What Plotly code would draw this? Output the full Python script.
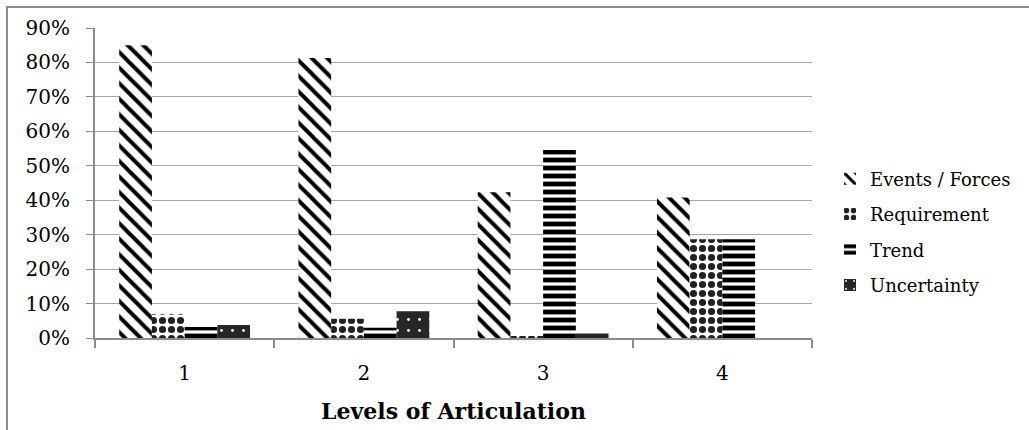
import plotly.graph_objects as go

categories = ["1", "2", "3", "4"]
events_forces = [0.850, 0.813, 0.423, 0.408]
requirement = [0.069, 0.056, 0.004, 0.287]
trend = [0.032, 0.030, 0.546, 0.287]
uncertainty = [0.038, 0.078, 0.013, 0.0]
series_names = ["Events / Forces", "Requirement", "Trend", "Uncertainty"]
y_ticks = [0, 0.1, 0.2, 0.3, 0.4, 0.5, 0.6, 0.7, 0.8, 0.9]

FONT = "DejaVu Serif"
GRAY = "#8c8c8c"

patterns = [
    dict(shape="\\", fgcolor="black", bgcolor="white", size=11, solidity=0.36, fillmode="replace"),
    dict(shape=".", fgcolor="#222222", bgcolor="white", size=9, solidity=0.5, fillmode="replace"),
    dict(shape="-", fgcolor="black", bgcolor="white", size=8, solidity=0.6, fillmode="replace"),
    dict(shape=".", fgcolor="white", bgcolor="#262626", size=11, solidity=0.05, fillmode="replace"),
]

fig = go.Figure()
for i, (name, vals) in enumerate(zip(series_names, [events_forces, requirement, trend, uncertainty])):
    fig.add_trace(go.Bar(
        x=categories, y=vals, name=name, legendgroup=name,
        marker=dict(color="white", line=dict(width=0), pattern=patterns[i]),
    ))

# plot area: x 95..812, y 28..338
L, R, T, B = 95, 1029 - 812, 28, 430 - 338
W, H = 1029 - L - R, 430 - T - B

def px(x):
    return (x - L) / W

def py(y):
    return (430 - B - y) / H

fig.update_layout(
    width=1029, height=430,
    margin=dict(l=L, r=R, t=T, b=B, autoexpand=False),
    paper_bgcolor="white", plot_bgcolor="white",
    barmode="group", bargap=0.27, bargroupgap=0,
    font=dict(family=FONT, color="black", size=18),
    showlegend=True,
    legend=dict(
        x=px(830), y=py(232), xanchor="left", yanchor="middle",
        font=dict(family=FONT, size=18, color="black"),
        traceorder="grouped", tracegroupgap=9,
        bgcolor="rgba(0,0,0,0)",
    ),
    xaxis=dict(
        type="category", categoryorder="array", categoryarray=categories,
        automargin=False,
        showgrid=False, showline=True, linecolor=GRAY, linewidth=2,
        ticks="outside", tickson="boundaries", ticklen=8, tickcolor=GRAY, tickwidth=1.5,
        tickfont=dict(family=FONT, size=20), ticklabelstandoff=16,
        title=dict(text="<b>Levels of Articulation</b>", font=dict(family=FONT, size=22), standoff=20),
    ),
    yaxis=dict(
        range=[0, 0.9], tickvals=y_ticks, tickformat=".0%",
        automargin=False,
        showgrid=True, gridcolor="#a6a6a6", gridwidth=1,
        showline=True, linecolor=GRAY, linewidth=2,
        ticks="outside", ticklen=7, tickcolor=GRAY, tickwidth=1,
        tickfont=dict(family=FONT, size=20), ticklabelstandoff=12,
        zeroline=False,
    ),
    shapes=[dict(
        type="rect", xref="paper", yref="paper",
        x0=px(7), y0=py(445), x1=px(1040), y1=py(7),
        line=dict(color=GRAY, width=2), fillcolor="rgba(0,0,0,0)", layer="below",
    )],
)

fig.write_html("out.html")
